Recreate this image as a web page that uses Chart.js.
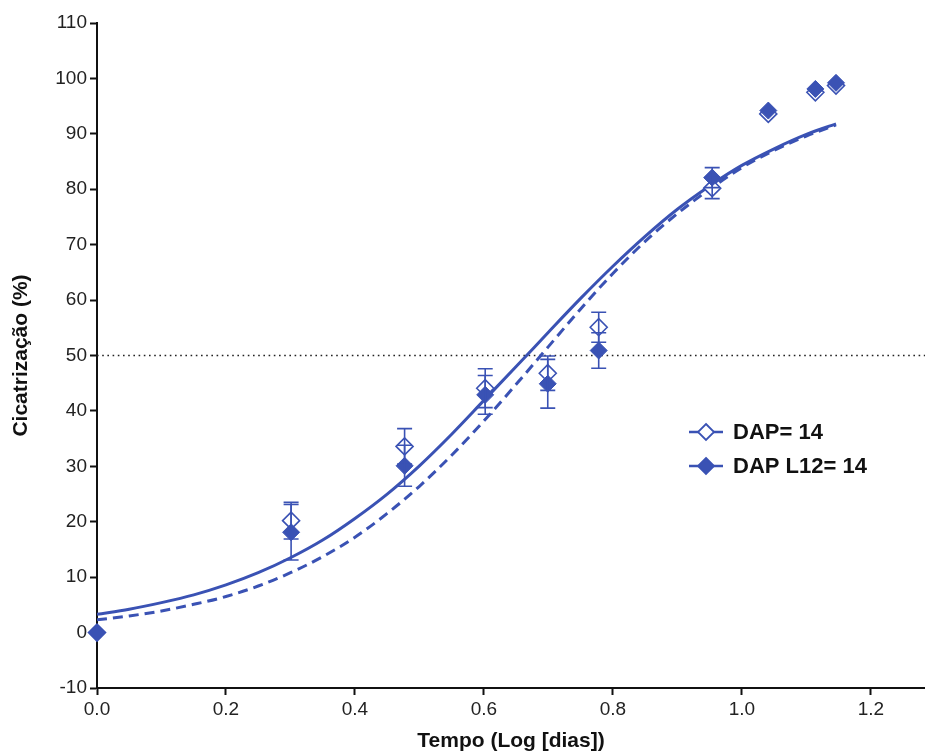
<!DOCTYPE html>
<html>
<head>
<meta charset="utf-8">
<script src="https://cdn.jsdelivr.net/npm/chart.js@4.4.1/dist/chart.umd.min.js"></script>
<style>
  body { margin: 0; background: #fff; }
  #wrap { width: 925px; height: 756px; position: relative; }
</style>
</head>
<body>
<div id="wrap"><canvas id="healChart"></canvas></div>
<script>
// tempo em log10(dias)
const logDays = [0, 0.301, 0.477, 0.602, 0.699, 0.778, 0.954, 1.041, 1.114, 1.146];
// DAP (losango vazio)
const dapMean = [0, 20.2, 33.6, 44.1, 46.8, 55.1, 80.2, 93.6, 97.5, 98.7];
const dapErr  = [0, 3.3, 3.2, 3.5, 3.1, 2.7, 1.9, 0, 0, 0];
// DAP L12 (losango cheio)
const l12Mean = [0, 18.1, 30.1, 42.9, 44.9, 50.9, 82.1, 94.2, 98.1, 99.2];
const l12Err  = [0, 5.0, 3.7, 3.5, 4.4, 3.2, 1.8, 0, 0, 0];

// curvas ajustadas
const fitX   = [0, 0.05, 0.1, 0.15, 0.2, 0.25, 0.3, 0.35, 0.4, 0.45, 0.5, 0.55, 0.6, 0.65, 0.7, 0.75, 0.8, 0.85, 0.9, 0.95, 1.0, 1.05, 1.1, 1.146];
const fitDap = [3.3, 4.2, 5.4, 6.8, 8.6, 10.8, 13.5, 16.7, 20.6, 25.0, 30.1, 35.8, 41.9, 48.0, 54.2, 60.3, 66.1, 71.5, 76.4, 80.6, 84.3, 87.3, 89.9, 91.8];
const fitL12 = [2.3, 3.0, 3.9, 5.1, 6.5, 8.4, 10.8, 13.7, 17.2, 21.5, 26.4, 32.0, 38.2, 44.8, 51.6, 58.4, 64.8, 70.6, 75.6, 80.0, 83.9, 87.0, 89.6, 91.6];

const halfLine = 50;
const xTicks = [0, 0.2, 0.4, 0.6, 0.8, 1.0, 1.2];
const yTicks = [-10, 0, 10, 20, 30, 40, 50, 60, 70, 80, 90, 100, 110];
const legendLabels = ['DAP= 14', 'DAP L12= 14'];

const BLUE = '#3a52b4';
const FONT = "'Liberation Sans', Arial, sans-serif";
const X_MAX = 1.284;

const pts = (xs, ys) => xs.map((x, i) => ({ x: x, y: ys[i] }));

// barras de erro desenhadas pelas escalas do gráfico
const errorBars = {
    id: 'errorBars',
    afterDatasetsDraw(chart) {
        const { ctx, scales: { x, y } } = chart;
        ctx.save();
        ctx.strokeStyle = BLUE;
        ctx.lineWidth = 1.6;
        [[dapMean, dapErr], [l12Mean, l12Err]].forEach(([means, errs]) => {
            logDays.forEach((d, i) => {
                if (!errs[i]) return;
                const px = x.getPixelForValue(d);
                const top = y.getPixelForValue(means[i] + errs[i]);
                const bot = y.getPixelForValue(means[i] - errs[i]);
                ctx.beginPath();
                ctx.moveTo(px, top); ctx.lineTo(px, bot);
                ctx.moveTo(px - 7.5, top); ctx.lineTo(px + 7.5, top);
                ctx.moveTo(px - 7.5, bot); ctx.lineTo(px + 7.5, bot);
                ctx.stroke();
            });
        });
        ctx.restore();
    }
};

function diamond(ctx, cx, cy, r, filled) {
    ctx.beginPath();
    ctx.moveTo(cx, cy - r);
    ctx.lineTo(cx + r, cy);
    ctx.lineTo(cx, cy + r);
    ctx.lineTo(cx - r, cy);
    ctx.closePath();
    ctx.fillStyle = filled ? BLUE : '#fff';
    ctx.fill();
    ctx.lineWidth = 1.8;
    ctx.strokeStyle = BLUE;
    ctx.stroke();
}

// legenda dentro da área do gráfico
const innerLegend = {
    id: 'innerLegend',
    afterDraw(chart) {
        const ctx = chart.ctx;
        const rows = [432, 466];
        ctx.save();
        rows.forEach((ry, i) => {
            ctx.strokeStyle = BLUE;
            ctx.lineWidth = 2.5;
            ctx.beginPath();
            ctx.moveTo(689, ry); ctx.lineTo(723, ry);
            ctx.stroke();
            diamond(ctx, 706, ry, 8, i === 1);
            ctx.fillStyle = '#111';
            ctx.font = 'bold 22px ' + FONT;
            ctx.textBaseline = 'middle';
            ctx.textAlign = 'left';
            ctx.fillText(legendLabels[i], 733, ry + 1);
        });
        ctx.restore();
    }
};

const ctx = document.getElementById('healChart').getContext('2d');
const healChart = new Chart(ctx, {
    type: 'scatter',
    data: {
        datasets: [
            {
                label: 'DAP L12= 14',
                data: pts(logDays, l12Mean),
                pointStyle: 'rectRot',
                pointRadius: 8.5,
                backgroundColor: BLUE,
                borderColor: BLUE,
                borderWidth: 1,
                showLine: false,
                clip: false,
                order: 1,
            },
            {
                label: 'DAP= 14',
                data: pts(logDays, dapMean),
                pointStyle: 'rectRot',
                pointRadius: 8.5,
                backgroundColor: '#fff',
                borderColor: BLUE,
                borderWidth: 1.6,
                showLine: false,
                clip: false,
                order: 2,
            },
            {
                label: 'ajuste DAP',
                data: pts(fitX, fitDap),
                showLine: true,
                borderColor: BLUE,
                borderWidth: 3,
                pointRadius: 0,
                cubicInterpolationMode: 'monotone',
                order: 3,
            },
            {
                label: 'ajuste DAP L12',
                data: pts(fitX, fitL12),
                showLine: true,
                borderColor: BLUE,
                borderWidth: 3,
                borderDash: [10, 6],
                pointRadius: 0,
                cubicInterpolationMode: 'monotone',
                order: 3,
            },
            {
                label: '50%',
                data: [{ x: 0, y: halfLine }, { x: X_MAX, y: halfLine }],
                showLine: true,
                borderColor: '#222',
                borderWidth: 1.6,
                borderDash: [1.6, 3.6],
                pointRadius: 0,
                order: 4,
            },
        ],
    },
    options: {
        responsive: true,
        maintainAspectRatio: false,
        animation: false,
        layout: { autoPadding: false, padding: { top: 23, right: 0, bottom: 0, left: 0 } },
        plugins: {
            legend: { display: false },
            tooltip: { enabled: false },
        },
        scales: {
            x: {
                type: 'linear',
                min: 0,
                max: X_MAX,
                afterBuildTicks: (s) => { s.ticks = xTicks.map(v => ({ value: v })); },
                afterFit: (s) => { s.height = 68; },
                ticks: {
                    color: '#222',
                    font: { family: FONT, size: 19 },
                    padding: 3,
                    maxRotation: 0,
                    callback: (v) => Number(v).toFixed(1),
                },
                grid: { drawOnChartArea: false, tickLength: 7, tickColor: '#111', tickWidth: 2 },
                border: { color: '#111', width: 2 },
                title: {
                    display: true,
                    text: 'Tempo (Log [dias])',
                    color: '#111',
                    font: { family: FONT, size: 21, weight: 'bold' },
                    padding: { top: 0, bottom: 2 },
                },
            },
            y: {
                type: 'linear',
                min: -10,
                max: 110,
                afterBuildTicks: (s) => { s.ticks = yTicks.map(v => ({ value: v })); },
                afterFit: (s) => { s.width = 97; },
                ticks: {
                    color: '#222',
                    font: { family: FONT, size: 19 },
                    padding: 3,
                },
                grid: { drawOnChartArea: false, tickLength: 7, tickColor: '#111', tickWidth: 2 },
                border: { color: '#111', width: 2 },
                title: {
                    display: true,
                    text: 'Cicatrização (%)',
                    color: '#111',
                    font: { family: FONT, size: 21, weight: 'bold' },
                    padding: { top: 9, bottom: 0 },
                },
            },
        },
    },
    plugins: [errorBars, innerLegend],
});
</script>
</body>
</html>
